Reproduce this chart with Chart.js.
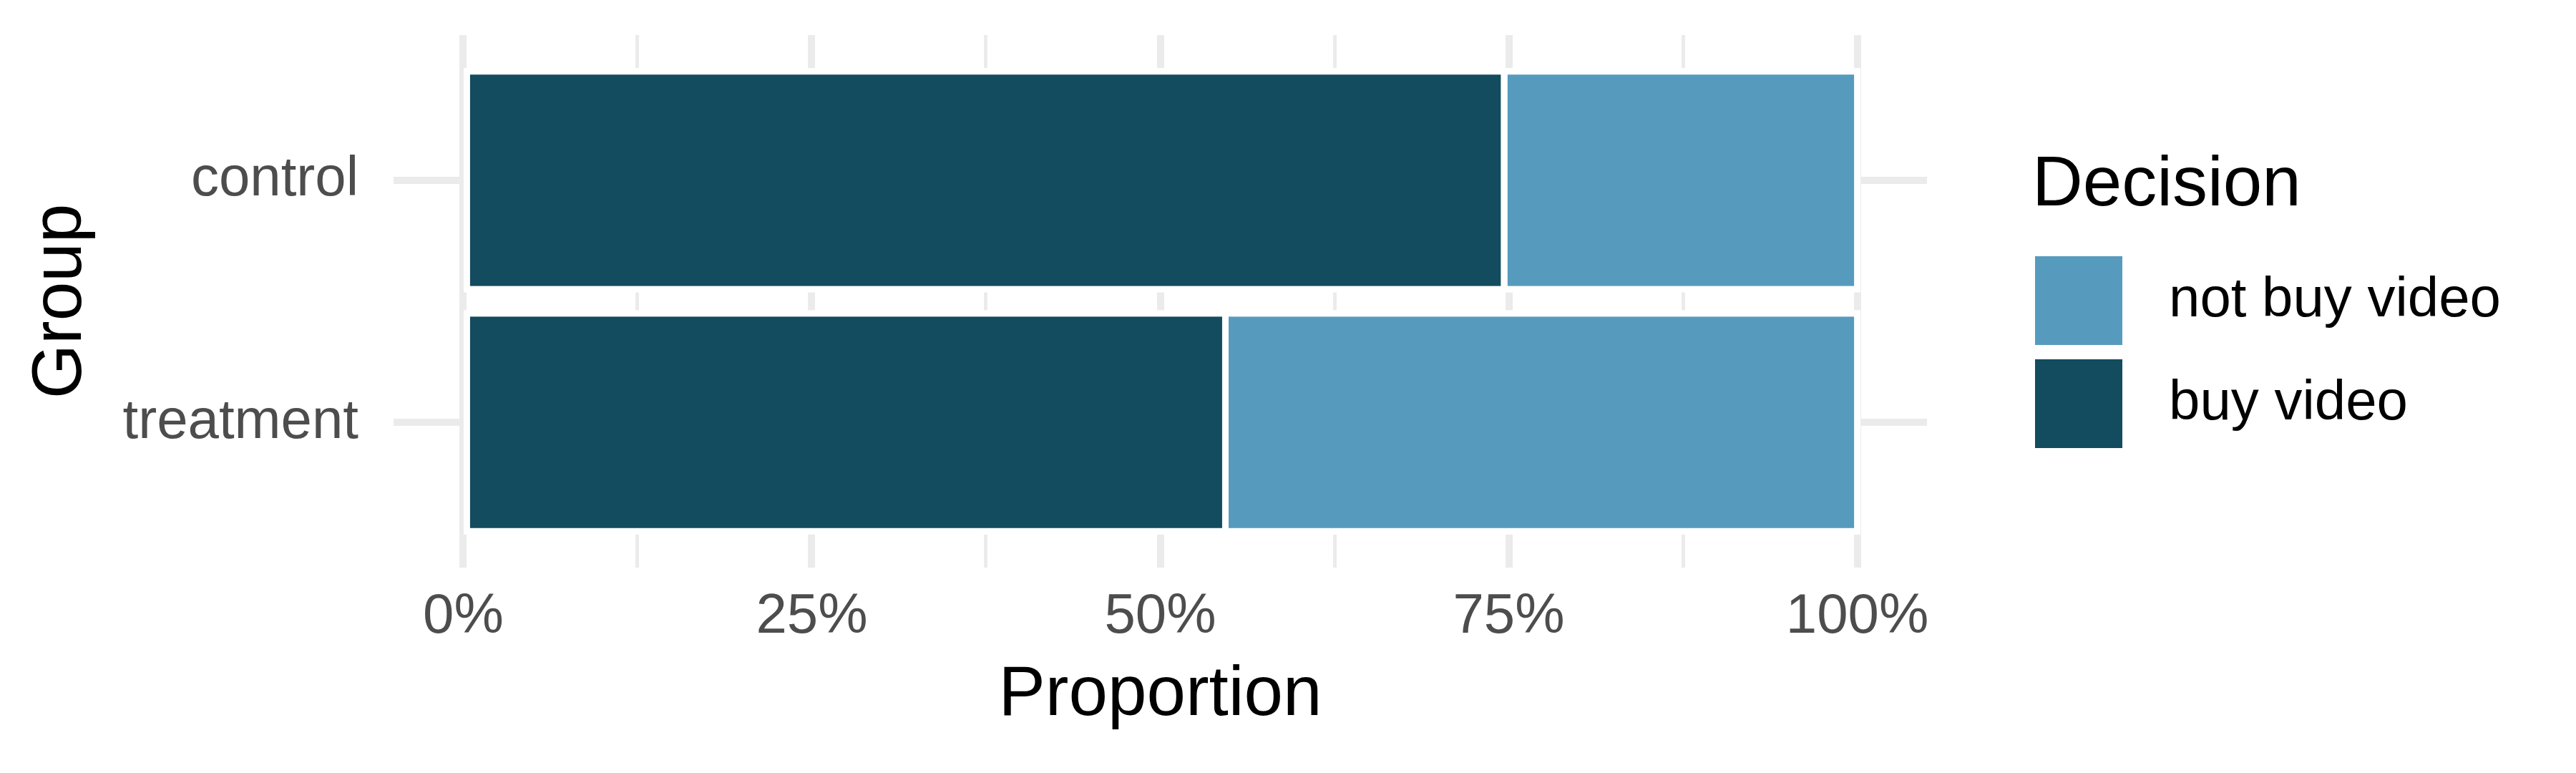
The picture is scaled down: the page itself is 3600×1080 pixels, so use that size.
<!DOCTYPE html>
<html>
<head>
<meta charset="utf-8">
<script src="https://cdn.jsdelivr.net/npm/chart.js@4.4.1/dist/chart.umd.min.js"></script>
<style>
  html, body { margin: 0; padding: 0; background: #ffffff; }
  canvas { display: block; }
</style>
</head>
<body>
<canvas id="c" width="3600" height="1080"></canvas>
<script>
// ---- data ----
const groups = ['control', 'treatment'];
const buyVideo = [0.7467, 0.5467];      // proportion buying the video
const notBuyVideo = [0.2533, 0.4533];   // proportion not buying
const seriesNames = ['buy video', 'not buy video'];
const seriesColors = ['#134B5F', '#569BBD'];
const xTickValues = [0, 0.25, 0.5, 0.75, 1];
const xTickLabels = ['0%', '25%', '50%', '75%', '100%'];
const axisTitleX = 'Proportion';
const axisTitleY = 'Group';
const legendTitle = 'Decision';

// ---- style ----
const FONT = 'Liberation Sans';
const TITLE_SIZE = 98;
const TEXT_SIZE = 78;
Chart.defaults.font.family = FONT;

// ggplot-like discrete expansion (0.6 units each side)
const ggExpand = {
  id: 'ggExpand',
  afterLayout(chart) {
    const s = chart.scales.y;
    s._startValue = -0.6;
    s._valueRange = (groups.length - 1) + 1.2;
  }
};

// white outline centred on each bar edge, as ggplot draws it
const ggOutline = {
  id: 'ggOutline',
  afterDatasetsDraw(chart) {
    const ctx = chart.ctx;
    ctx.save();
    ctx.strokeStyle = '#FFFFFF';
    ctx.lineWidth = 9;
    chart.data.datasets.forEach((ds, i) => {
      chart.getDatasetMeta(i).data.forEach(bar => {
        const p = bar.getProps(['x', 'y', 'base', 'height'], true);
        ctx.strokeRect(Math.min(p.x, p.base), p.y - p.height / 2, Math.abs(p.x - p.base), p.height);
      });
    });
    ctx.restore();
  }
};

// ggplot-style legend on the right
const ggLegend = {
  id: 'ggLegend',
  afterDraw(chart) {
    const ctx = chart.ctx;
    const left = chart.chartArea.right + 147;
    ctx.save();
    ctx.fillStyle = '#000000';
    ctx.font = TITLE_SIZE + 'px "' + FONT + '"';
    ctx.textAlign = 'left';
    ctx.textBaseline = 'alphabetic';
    ctx.fillText(legendTitle, left, 287);
    const order = chart.data.datasets.map((d, i) => i).reverse();
    order.forEach((di, k) => {
      const ds = chart.data.datasets[di];
      const top = 358 + k * 144;
      ctx.fillStyle = ds.backgroundColor;
      ctx.fillRect(left + 4, top, 122, 124);
      ctx.fillStyle = '#000000';
      ctx.font = TEXT_SIZE + 'px "' + FONT + '"';
      ctx.textBaseline = 'middle';
      ctx.fillText(ds.label, left + 191, top + 62);
    });
    ctx.restore();
  }
};

const chart = new Chart(document.getElementById('c'), {
  type: 'bar',
  data: {
    labels: groups,
    datasets: [
      { label: seriesNames[0], data: buyVideo, backgroundColor: seriesColors[0], borderWidth: 0 },
      { label: seriesNames[1], data: notBuyVideo, backgroundColor: seriesColors[1], borderWidth: 0 }
    ]
  },
  options: {
    indexAxis: 'y',
    responsive: false,
    devicePixelRatio: 1,
    animation: false,
    barPercentage: 0.9,
    categoryPercentage: 1,
    layout: { padding: { top: 49, right: 907, bottom: 0, left: 0 } },
    plugins: { legend: { display: false }, tooltip: { enabled: false } },
    scales: {
      x: {
        type: 'linear',
        stacked: true,
        min: -0.05,
        max: 1.05,
        afterBuildTicks(axis) {
          const vals = [];
          xTickValues.forEach((v, i) => {
            vals.push(v);
            if (i < xTickValues.length - 1) vals.push((v + xTickValues[i + 1]) / 2);
          });
          axis.ticks = vals.map(v => ({ value: v }));
        },
        afterFit(s) { s.height = 287; s.paddingLeft = 0; s.paddingRight = 0; },
        ticks: {
          autoSkip: false,
          maxRotation: 0,
          padding: 23,
          color: '#4D4D4D',
          font: { size: TEXT_SIZE },
          callback(value) {
            const i = xTickValues.indexOf(value);
            return i >= 0 ? xTickLabels[i] : '';
          }
        },
        grid: {
          color: '#EBEBEB',
          drawTicks: false,
          lineWidth: c => (c.tick && xTickValues.includes(c.tick.value)) ? 10 : 5
        },
        border: { display: false },
        title: { display: true, text: axisTitleX, color: '#000000', font: { size: TITLE_SIZE }, padding: { top: 0, bottom: 49 } }
      },
      y: {
        type: 'category',
        stacked: true,
        offset: false,
        afterFit(s) { s.width = 550; s.paddingTop = 0; s.paddingBottom = 0; },
        ticks: { padding: 49, color: '#4D4D4D', font: { size: TEXT_SIZE } },
        grid: { color: '#EBEBEB', lineWidth: 10, drawTicks: false, offset: false },
        border: { display: false },
        title: { display: true, text: axisTitleY, color: '#000000', font: { size: TITLE_SIZE }, padding: { top: 27, bottom: 0 } }
      }
    }
  },
  plugins: [ggExpand, ggOutline, ggLegend]
});
</script>
</body>
</html>
